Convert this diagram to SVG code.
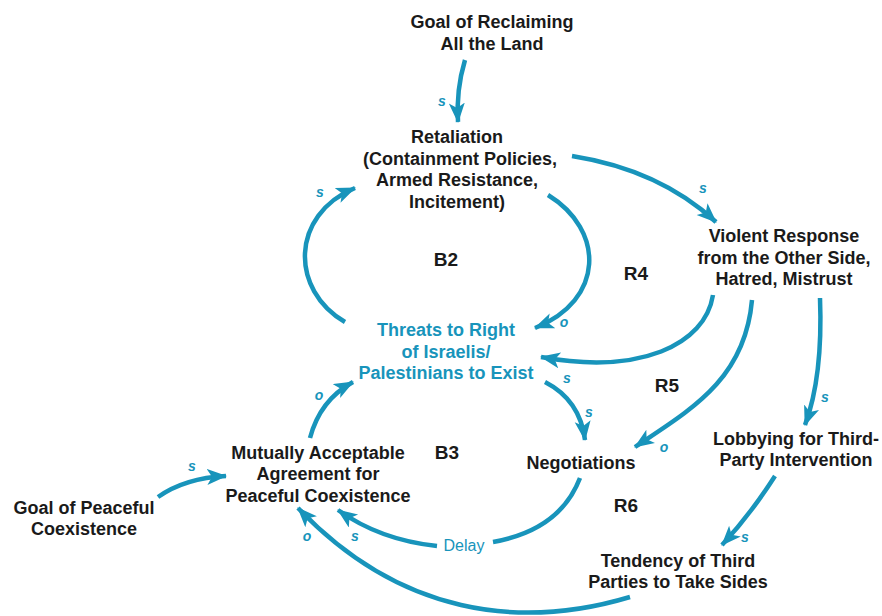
<svg xmlns="http://www.w3.org/2000/svg" width="882" height="616" viewBox="0 0 882 616">
<style>
.t{font-family:"Liberation Sans",Arial,sans-serif;font-size:18px;font-weight:bold;fill:#1a1a1a;text-anchor:middle}
.b{fill:#1894bb}
.p{font-family:"Liberation Sans",Arial,sans-serif;font-size:14px;fill:#1894bb;font-weight:bold;font-style:italic;text-anchor:middle}
.l{font-family:"Liberation Sans",Arial,sans-serif;font-size:19px;font-weight:bold;fill:#1a1a1a;text-anchor:middle}
.c{fill:none;stroke:#1894bb;stroke-width:4.5;stroke-linecap:butt}
</style>
<defs>
<marker id="ah" markerUnits="userSpaceOnUse" markerWidth="24" markerHeight="20" refX="19" refY="8" orient="auto">
<path d="M0,0 L20,8 L0,16 L5,8 z" fill="#1894bb"/>
</marker>
</defs>
<rect width="882" height="616" fill="#fff"/>
<g id="connectors">
<path class="c" d="M465,60 Q456,90 458,122" marker-end="url(#ah)"/>
<path class="c" d="M572,156 Q660,170 716,222" marker-end="url(#ah)"/>
<path class="c" d="M345,322 C290,290 290,215 355,188" marker-end="url(#ah)"/>
<path class="c" d="M548,195 C605,230 605,300 535,328" marker-end="url(#ah)"/>
<path class="c" d="M713,295 C705,345 640,375 541,357" marker-end="url(#ah)"/>
<path class="c" d="M545,382 Q580,400 585,440" marker-end="url(#ah)"/>
<path class="c" d="M752,300 C745,380 690,410 635,447" marker-end="url(#ah)"/>
<path class="c" d="M820,298 C822,350 818,390 805,425" marker-end="url(#ah)"/>
<path class="c" d="M158,497 Q185,478 226,476" marker-end="url(#ah)"/>
<path class="c" d="M310,438 Q320,400 353,382" marker-end="url(#ah)"/>
<path class="c" d="M580,478 Q560,530 493,542"/>
<path class="c" d="M437,546 Q380,540 338,510" marker-end="url(#ah)"/>
<path class="c" d="M775,476 Q750,515 722,545" marker-end="url(#ah)"/>
<path class="c" d="M630,597 C520,630 400,615 298,508" marker-end="url(#ah)"/>
<text class="p" x="442" y="106">s</text>
<text class="p" x="703" y="193">s</text>
<text class="p" x="320" y="197">s</text>
<text class="p" x="564" y="327">o</text>
<text class="p" x="567" y="383">s</text>
<text class="p" x="589" y="417">s</text>
<text class="p" x="664" y="452">o</text>
<text class="p" x="825" y="402">s</text>
<text class="p" x="192" y="471">s</text>
<text class="p" x="319" y="400">o</text>
<text class="p" x="355" y="541">s</text>
<text class="p" x="745" y="542">s</text>
<text class="p" x="307" y="541">o</text>
<text class="t b" x="464" y="551" style="font-size:16px;font-weight:normal">Delay</text>
</g>
<g id="loops">
<text class="l" x="446" y="266">B2</text>
<text class="l" x="636" y="280">R4</text>
<text class="l" x="667" y="392">R5</text>
<text class="l" x="447" y="459">B3</text>
<text class="l" x="626" y="512">R6</text>
</g>
<g id="goal-reclaim"><text class="t" x="492" y="28">Goal of Reclaiming</text><text class="t" x="492" y="50">All the Land</text></g>
<g id="retaliation"><text class="t" x="457" y="143">Retaliation</text><text class="t" x="460" y="165">(Containment Policies,</text><text class="t" x="457" y="186">Armed Resistance,</text><text class="t" x="457" y="208">Incitement)</text></g>
<g id="violent"><text class="t" x="784" y="242">Violent Response</text><text class="t" x="784" y="264">from the Other Side,</text><text class="t" x="784" y="285">Hatred, Mistrust</text></g>
<g id="threats"><text class="t b" x="446" y="336">Threats to Right</text><text class="t b" x="446" y="358">of Israelis/</text><text class="t b" x="446" y="379">Palestinians to Exist</text></g>
<g id="negotiations"><text class="t" x="581" y="469">Negotiations</text></g>
<g id="lobbying"><text class="t" x="796" y="445">Lobbying for Third-</text><text class="t" x="796" y="466">Party Intervention</text></g>
<g id="mutual"><text class="t" x="318" y="459">Mutually Acceptable</text><text class="t" x="318" y="480">Agreement for</text><text class="t" x="318" y="502">Peaceful Coexistence</text></g>
<g id="goal-peace"><text class="t" x="84" y="514">Goal of Peaceful</text><text class="t" x="84" y="535">Coexistence</text></g>
<g id="tendency"><text class="t" x="678" y="567">Tendency of Third</text><text class="t" x="678" y="588">Parties to Take Sides</text></g>
</svg>
